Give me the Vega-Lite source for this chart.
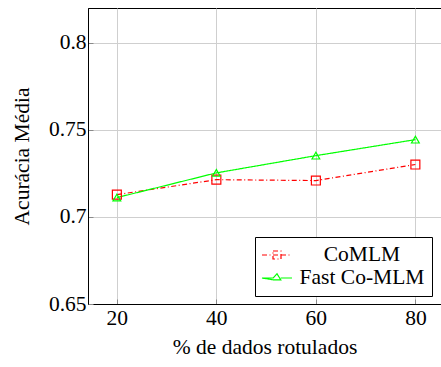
{
  "$schema": "https://vega.github.io/schema/vega-lite/v6.json",
  "autosize": "none",
  "width": 353,
  "height": 296,
  "padding": {"left": 88, "top": 8, "right": 0, "bottom": 63},
  "background": "white",
  "config": {
    "font": "Liberation Serif",
    "view": {"stroke": "black", "strokeWidth": 1},
    "axis": {
      "labelFont": "Liberation Serif",
      "titleFont": "Liberation Serif",
      "labelFontSize": 21.5,
      "titleFontSize": 21.5,
      "titleFontWeight": "normal",
      "labelColor": "black",
      "titleColor": "black",
      "domainColor": "black",
      "gridColor": "#cfcfcf",
      "gridWidth": 1,
      "ticks": true,
      "tickSize": -5,
      "tickColor": "#8a8a8a",
      "tickWidth": 1
    }
  },
  "data": {
    "values": [
      {"pct": 20, "acc": 0.7128, "series": "CoMLM"},
      {"pct": 40, "acc": 0.7214, "series": "CoMLM"},
      {"pct": 60, "acc": 0.7209, "series": "CoMLM"},
      {"pct": 80, "acc": 0.7301, "series": "CoMLM"},
      {"pct": 20, "acc": 0.7111, "series": "Fast Co-MLM"},
      {"pct": 40, "acc": 0.7253, "series": "Fast Co-MLM"},
      {"pct": 60, "acc": 0.7352, "series": "Fast Co-MLM"},
      {"pct": 80, "acc": 0.7444, "series": "Fast Co-MLM"}
    ]
  },
  "encoding": {
    "x": {
      "field": "pct", "type": "quantitative",
      "scale": {"domain": [14.2, 85.15], "nice": false, "zero": false},
      "axis": {"values": [20, 40, 60, 80], "title": "% de dados rotulados", "labelPadding": 8, "titlePadding": 8}
    },
    "y": {
      "field": "acc", "type": "quantitative",
      "scale": {"domain": [0.65, 0.82], "nice": false, "zero": false},
      "axis": {"values": [0.65, 0.7, 0.75, 0.8], "format": ".2~f", "title": "Acurácia Média", "labelPadding": 7, "titlePadding": 15}
    },
    "color": {
      "field": "series", "type": "nominal",
      "scale": {"domain": ["CoMLM", "Fast Co-MLM"], "range": ["#ff0000", "#00ff00"]},
      "legend": {
        "orient": "none", "legendX": 167, "legendY": 229,
        "title": null,
        "fillColor": "white", "strokeColor": "black", "padding": 7,
        "labelFont": "Liberation Serif", "labelFontSize": 21.5, "labelColor": "black",
        "labelAlign": "center", "labelOffset": 78,
        "symbolSize": 400, "symbolStrokeWidth": 1.2,
        "rowPadding": 1,
        "encode": {
          "symbols": {
            "update": {
              "shape": {"signal": "datum.value === 'CoMLM' ? 'M-1.1,0H0M0,-0.4H0.8V0.4H0ZM0,0H0.8M0.8,0H1.9' : 'M-1.1,0H0.02L0.4,-0.42L0.78,0.18H0.02ZM0.78,0H1.9'"},
              "fill": {"value": "transparent"}
            }
          }
        }
      }
    }
  },
  "layer": [
    {
      "mark": {"type": "line", "strokeWidth": 1.2},
      "encoding": {
        "strokeDash": {
          "field": "series", "type": "nominal",
          "scale": {"domain": ["CoMLM", "Fast Co-MLM"], "range": [[5, 2.5, 1, 2.5], [1, 0]]},
          "legend": null
        }
      }
    },
    {
      "transform": [{"filter": "datum.series === 'CoMLM'"}],
      "mark": {"type": "point", "shape": "square", "filled": false, "strokeWidth": 1.2, "opacity": 1, "size": 80}
    },
    {
      "transform": [{"filter": "datum.series === 'Fast Co-MLM'"}],
      "mark": {"type": "point", "shape": "triangle-up", "filled": false, "strokeWidth": 1.2, "opacity": 1, "size": 60}
    }
  ]
}
